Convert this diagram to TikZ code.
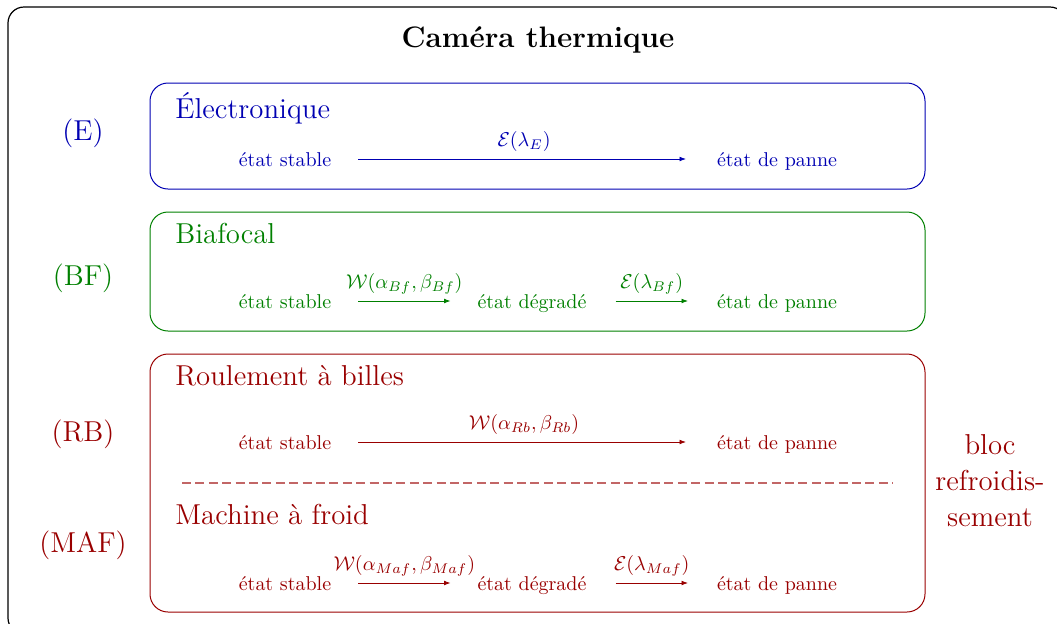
\documentclass[tikz,border=0pt]{standalone}
\usepackage{fontspec}
\usepackage{amsmath}
\usetikzlibrary{arrows.meta}
\colorlet{cE}{blue!70!black}
\colorlet{cB}{green!50!black}
\colorlet{cR}{red!60!black}
\colorlet{cRlight}{red!60!black!60!white}
\tikzset{
  state/.style={font=\normalsize, text height=7pt, text depth=0pt, inner sep=3.33pt},
  trans/.style={-{Latex[length=3.2pt,width=2.4pt]}, shorten <=10pt, shorten >=12pt},
  blockbox/.style={rounded corners=9pt, line width=0.5pt},
  blocktitle/.style={font=\Large, anchor=base west, inner sep=0pt},
  sidelabel/.style={font=\Large},
  lab/.style={font=\normalsize, inner sep=3.33pt},
  sepline/.style={draw=cRlight, line width=0.8pt, dash pattern=on 4.5pt off 2.2pt}
}
\begin{document}
\begin{tikzpicture}[x=0.5pt,y=-0.5pt]
\useasboundingbox (0,0) rectangle (1057,623);
\clip (0,0) rectangle (1057,623);
% outer frame
\draw[line width=0.6pt, rounded corners=8pt] (8,7) rectangle (1066,634);
\node[font=\fontsize{14.8}{18}\selectfont\bfseries] (title) at (538,40) {Caméra thermique};

% ---------- Electronique
\draw[cE, blockbox] (150,83) rectangle (925,189);
\node[cE, blocktitle] (tE) at (175,118) {Électronique};
\node[cE, sidelabel] (lE) at (83,133) {(E)};
\node[cE, state] (sE) at (285,159) {état stable};
\node[cE, state] (pE) at (777,159) {état de panne};
\draw[cE, trans] (sE.east) -- node[lab, above] {$\mathcal{E}(\lambda_E)$} (pE.west);

% ---------- Biafocal
\draw[cB, blockbox] (150,212) rectangle (925,331);
\node[cB, blocktitle] (tB) at (175,243) {Biafocal};
\node[cB, sidelabel] (lB) at (83,278) {(BF)};
\node[cB, state] (sB) at (285,301) {état stable};
\node[cB, state] (dB) at (532,301) {état dégradé};
\node[cB, state] (pB) at (777,301) {état de panne};
\draw[cB, trans, shorten >=10pt] (sB.east) -- node[lab, above] {$\mathcal{W}(\alpha_{Bf},\beta_{Bf})$} (dB.west);
\draw[cB, trans, shorten <=11pt, shorten >=11pt] (dB.east) -- node[lab, above] {$\mathcal{E}(\lambda_{Bf})$} (pB.west);

% ---------- Roulement / Machine
\draw[cR, blockbox] (150,354) rectangle (925,612);
\node[cR, blocktitle] (tR) at (175,385) {Roulement à billes};
\node[cR, sidelabel] (lR) at (83,434) {(RB)};
\node[cR, state] (sR) at (285,442) {état stable};
\node[cR, state] (pR) at (777,442) {état de panne};
\draw[cR, trans] (sR.east) -- node[lab, above] {$\mathcal{W}(\alpha_{Rb},\beta_{Rb})$} (pR.west);

\coordinate (dl) at (182,483);
\coordinate (dr) at (893,483);
\draw[sepline] (dl) -- (dr);

\node[cR, blocktitle] (tM) at (175,524) {Machine à froid};
\node[cR, sidelabel] (lM) at (83,545) {(MAF)};
\node[cR, state] (sM) at (285,583) {état stable};
\node[cR, state] (dM) at (532,583) {état dégradé};
\node[cR, state] (pM) at (777,583) {état de panne};
\draw[cR, trans, shorten >=10pt] (sM.east) -- node[lab, above] {$\mathcal{W}(\alpha_{Maf},\beta_{Maf})$} (dM.west);
\draw[cR, trans, shorten <=11pt, shorten >=11pt] (dM.east) -- node[lab, above] {$\mathcal{E}(\lambda_{Maf})$} (pM.west);

\node[cR, font=\Large, align=center] (bloc) at (990,481) {bloc\\refroidis-\\sement};
\end{tikzpicture}
\end{document}
